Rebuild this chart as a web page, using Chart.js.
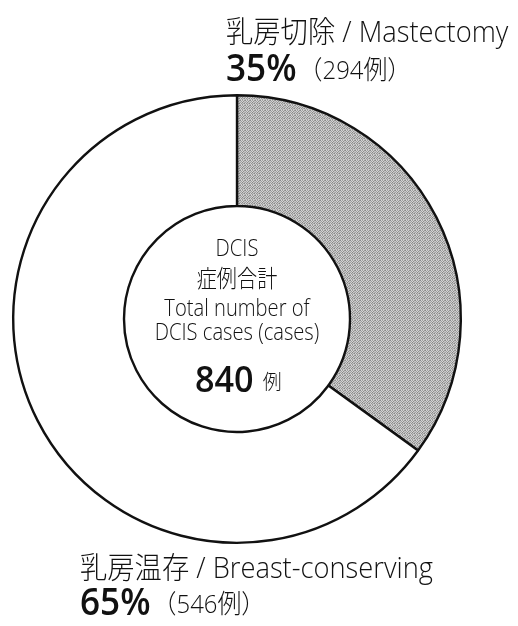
<!DOCTYPE html>
<html>
<head>
<meta charset="utf-8">
<script src="https://cdn.jsdelivr.net/npm/chart.js@4"></script>
<style>
  html, body { margin: 0; padding: 0; background: #fff; }
  #chart-dcis { display: block; }
</style>
</head>
<body>
<canvas id="chart-dcis" width="518" height="626"></canvas>
<script>
// 手術方法別の症例数
const surgeryLabels = ["乳房切除 / Mastectomy", "乳房温存 / Breast-conserving"];
const caseCounts = [294, 546];
const percentLabels = ["35%", "65%"];
const caseUnit = "例";
const centerLines = ["DCIS", "症例合計", "Total number of", "DCIS cases (cases)"];
const totalCases = 840;

const FONT = "'Open Sans', 'Noto Sans CJK JP', sans-serif";

document.addEventListener("DOMContentLoaded", () => {
  main();
});

const main = () => {
  const ctx = document.querySelector("#chart-dcis");
  new Chart(ctx, generateChartConfig());
};

// small dotted tile for the mastectomy slice
const makeDotPattern = () => {
  const tile = document.createElement("canvas");
  tile.width = 5;
  tile.height = 5;
  const tctx = tile.getContext("2d");
  const shades = [
    "#8a8a8a", "#d4d4d4", "#a4a4a4", "#cfcfcf", "#999999",
    "#c8c8c8", "#9f9f9f", "#d9d9d9", "#8e8e8e", "#c2c2c2",
    "#a0a0a0", "#d2d2d2", "#888888", "#cbcbcb", "#b5b5b5",
    "#d6d6d6", "#929292", "#c4c4c4", "#a8a8a8", "#858585",
    "#b0b0b0", "#cdcdcd", "#979797", "#d0d0d0", "#c6c6c6",
  ];
  shades.forEach((c, i) => {
    tctx.fillStyle = c;
    tctx.fillRect(i % 5, Math.floor(i / 5), 1, 1);
  });
  return tctx.createPattern(tile, "repeat");
};

const drawText = (ctx, text, x, y, font, align, sx = 1) => {
  ctx.save();
  ctx.font = font;
  ctx.textAlign = align;
  ctx.textBaseline = "middle";
  ctx.translate(x, y);
  ctx.scale(sx, 1);
  ctx.fillText(text, 0, 0);
  ctx.restore();
};

const textWidth = (ctx, text, font, sx = 1) => {
  ctx.save();
  ctx.font = font;
  const w = ctx.measureText(text).width * sx;
  ctx.restore();
  return w;
};

const labelsPlugin = {
  id: "surgeryLabels",
  afterDraw(chart) {
    const ctx = chart.ctx;
    const arc = chart.getDatasetMeta(0).data[0];
    const cx = arc.x;
    const cy = arc.y;
    const total = caseCounts.reduce((a, b) => a + b, 0);
    ctx.fillStyle = "#111";

    // outer labels: name on first line, percent and count below
    const spots = [
      { x: 226, y1: 33, y2: 70 },
      { x: 80, y1: 569, y2: 604 },
    ];
    spots.forEach((s, i) => {
      drawText(ctx, surgeryLabels[i], s.x, s.y1, `300 30px ${FONT}`, "left", 0.91);
      const pctFont = `600 37px ${FONT}`;
      drawText(ctx, percentLabels[i], s.x, s.y2, pctFont, "left", 0.95);
      const pw = textWidth(ctx, percentLabels[i], pctFont, 0.95);
      drawText(ctx, `（${caseCounts[i]}${caseUnit}）`, s.x + pw + 2, s.y2 + 2, `300 26px ${FONT}`, "left", 0.92);
    });

    // centre text
    const ys = [cy - 70, cy - 39, cy - 10, cy + 14];
    centerLines.forEach((line, i) => {
      drawText(ctx, line, cx, ys[i], `300 24px ${FONT}`, "center", 0.84);
    });
    const numFont = `600 36px ${FONT}`;
    const numText = String(total === totalCases ? totalCases : total);
    const nw = textWidth(ctx, numText, numFont, 0.95);
    drawText(ctx, numText, cx - 42, cy + 63, numFont, "left", 0.95);
    drawText(ctx, caseUnit, cx - 42 + nw + 9, cy + 64, `300 21px ${FONT}`, "left", 0.9);
  },
};

const generateChartConfig = () => {
  const pattern = makeDotPattern();

  return {
    type: "doughnut",
    data: {
      labels: surgeryLabels,
      datasets: [
        {
          data: caseCounts,
          backgroundColor: [pattern, "#ffffff"],
          borderColor: "#111111",
          borderWidth: 2.4,
        },
      ],
    },
    options: {
      responsive: false,
      devicePixelRatio: 1,
      animation: false,
      cutout: 113,
      layout: {
        padding: { left: 12, right: 56, top: 94, bottom: 82 },
      },
      plugins: {
        legend: { display: false },
        tooltip: { enabled: false },
      },
    },
    plugins: [labelsPlugin],
  };
};
</script>
</body>
</html>
